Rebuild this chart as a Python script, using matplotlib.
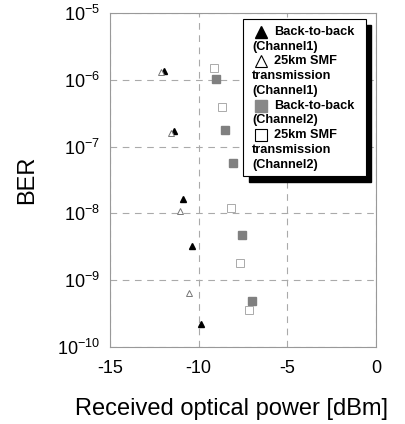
import matplotlib
matplotlib.use("Agg")
import matplotlib.pyplot as plt
from matplotlib.patches import Rectangle

plt.rcParams['font.family'] = ['Liberation Sans', 'DejaVu Sans']

# Back-to-back, Channel 1
b2b_ch1_x = [-11.95, -11.39, -10.88, -10.38, -9.87]
b2b_ch1_y = [1.36e-6, 1.74e-7, 1.62e-8, 3.3e-9, 2.2e-10]
# 25km SMF transmission, Channel 1
smf_ch1_x = [-12.12, -11.56, -11.05, -10.55]
smf_ch1_y = [1.32e-6, 1.62e-7, 1.07e-8, 6.4e-10]
# Back-to-back, Channel 2
b2b_ch2_x = [-9.02, -8.51, -8.05, -7.54, -6.99]
b2b_ch2_y = [1.04e-6, 1.78e-7, 5.6e-8, 4.7e-9, 4.8e-10]
# 25km SMF transmission, Channel 2
smf_ch2_x = [-9.15, -8.68, -8.19, -7.65, -7.14]
smf_ch2_y = [1.5e-6, 3.86e-7, 1.22e-8, 1.83e-9, 3.6e-10]

legend_lines = [
    ("Back-to-back", "(Channel1)"),
    ("25km SMF", "transmission", "(Channel1)"),
    ("Back-to-back", "(Channel2)"),
    ("25km SMF", "transmission", "(Channel2)"),
]
legend_styles = [
    dict(marker='^', color='black', markersize=9),
    dict(marker='^', markerfacecolor='white', markeredgecolor='black', markersize=9, markeredgewidth=0.8),
    dict(marker='s', color='#888888', markersize=8),
    dict(marker='s', markerfacecolor='white', markeredgecolor='black', markersize=8, markeredgewidth=0.8),
]

fig = plt.figure(figsize=(4.06, 4.24), dpi=100)
ax = fig.add_axes([0.271, 0.1816, 0.655, 0.7877])

ax.plot(b2b_ch1_x, b2b_ch1_y, linestyle='none', marker='^', color='black', markersize=4.5)
ax.plot(smf_ch1_x, smf_ch1_y, linestyle='none', marker='^', markerfacecolor='white',
        markeredgecolor='#777777', markeredgewidth=0.7, markersize=4.5)
ax.plot(b2b_ch2_x, b2b_ch2_y, linestyle='none', marker='s', color='#808080', markersize=5.5)
ax.plot(smf_ch2_x, smf_ch2_y, linestyle='none', marker='s', markerfacecolor='white',
        markeredgecolor='#aaaaaa', markeredgewidth=0.7, markersize=5.5)

ax.set_yscale('log')
ax.set_xlim(-15, 0)
ax.set_ylim(1e-10, 1e-5)
ax.set_xticks([-15, -10, -5, 0])
ax.set_xticklabels(['-15', '-10', '-5', '0'])
ax.set_yticks([1e-10, 1e-9, 1e-8, 1e-7, 1e-6, 1e-5])
ax.minorticks_off()
ax.tick_params(length=0, labelsize=13)
ax.tick_params(axis='x', pad=9)
ax.tick_params(axis='y', pad=7)
ax.grid(True, color='#aaaaaa', linestyle=(0, (6, 5)), linewidth=0.8)
for s in ax.spines.values():
    s.set_color('#999999')
    s.set_linewidth(0.8)

ax.set_xlabel("Received optical power [dBm]", fontsize=17)
ax.xaxis.set_label_coords(0.455, -0.152)
ax.set_ylabel("BER", fontsize=17, labelpad=14)

# hand-made legend with hanging indent and solid drop shadow
box_l, box_r, box_t, box_b = 0.50, 0.962, 0.981, 0.513
ax.add_patch(Rectangle((box_l + 0.021, box_b - 0.018), box_r - box_l, box_t - box_b,
                       transform=ax.transAxes, facecolor='black', edgecolor='black',
                       clip_on=False, zorder=5))
ax.add_patch(Rectangle((box_l, box_b), box_r - box_l, box_t - box_b,
                       transform=ax.transAxes, facecolor='white', edgecolor='black',
                       linewidth=0.8, clip_on=False, zorder=6))
line_h = 0.0443
y = 0.944
for lines, st in zip(legend_lines, legend_styles):
    ax.plot([0.5665], [y], transform=ax.transAxes, linestyle='none', clip_on=False,
            zorder=7, **st)
    ax.text(0.6165, y, lines[0], transform=ax.transAxes, fontsize=9.2, fontweight='bold',
            va='center', ha='left', zorder=7)
    y -= line_h
    for ln in lines[1:]:
        ax.text(0.534, y, ln, transform=ax.transAxes, fontsize=9.2, fontweight='bold',
                va='center', ha='left', zorder=7)
        y -= line_h

fig.savefig("out.png", dpi=100)
